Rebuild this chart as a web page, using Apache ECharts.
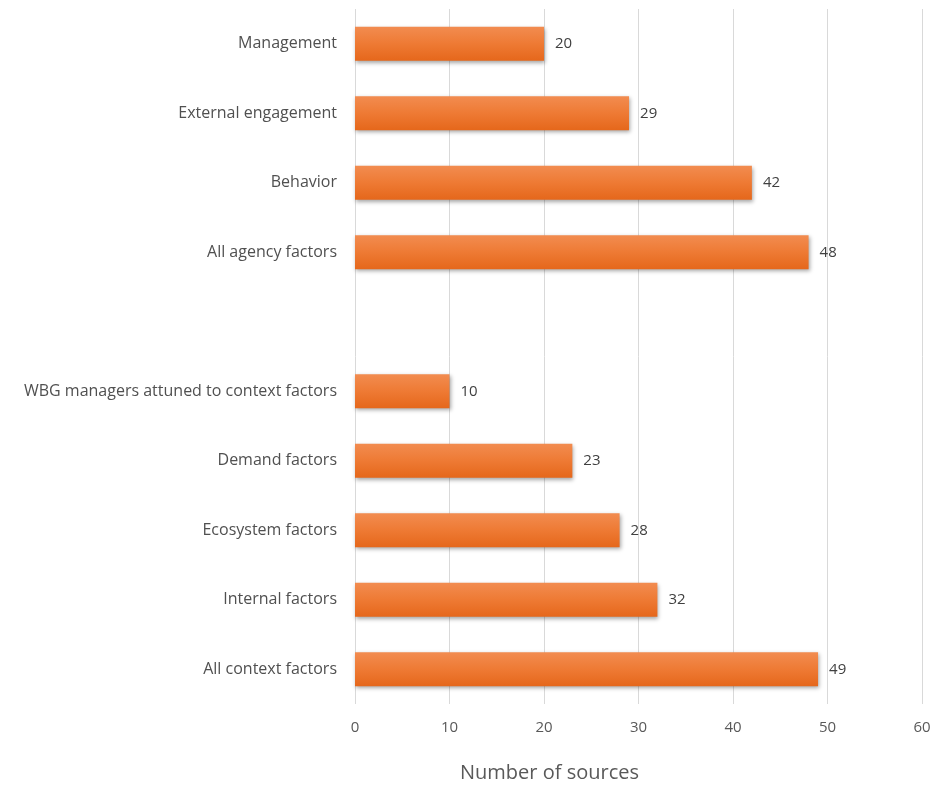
<!DOCTYPE html>
<html><head><meta charset="utf-8">
<script src="https://cdn.jsdelivr.net/npm/echarts@6/dist/echarts.min.js"></script>
<style>html,body{margin:0;padding:0;background:#fff}#c{width:938px;height:786px}</style>
</head><body><div id="c"></div>
<script>
const categories = ["Management","External engagement","Behavior","All agency factors","","WBG managers attuned to context factors","Demand factors","Ecosystem factors","Internal factors","All context factors"];
const values = [20,29,42,48,null,10,23,28,32,49];
const xTicks = [0,10,20,30,40,50,60];
const axisTitle = "Number of sources";

const font = "'Open Sans', 'Liberation Sans', sans-serif";
const chart = echarts.init(document.getElementById('c'), null, {renderer:'canvas'});
chart.setOption({
  animation:false,
  backgroundColor:'#fff',
  title:{text:axisTitle,left:455,top:758,textStyle:{fontFamily:font,fontSize:20,fontWeight:'normal',color:'#595959'}},
  grid:{left:355,right:16,top:9,bottom:82,containLabel:false},
  xAxis:{type:'value',min:xTicks[0],max:xTicks[xTicks.length-1],interval:10,
    axisLine:{show:false},axisTick:{show:false},
    axisLabel:{fontFamily:font,fontSize:15,color:'#595959',margin:16},
    splitLine:{show:true,lineStyle:{color:'#d9d9d9',width:1}}},
  yAxis:{type:'category',data:categories,inverse:true,
    axisLine:{show:false},axisTick:{show:false},
    axisLabel:{fontFamily:font,fontSize:16,color:'#505050',margin:18}},
  series:[{type:'bar',data:values,barWidth:34,
    itemStyle:{color:new echarts.graphic.LinearGradient(0,0,0,1,[{offset:0,color:'#F28C50'},{offset:0.5,color:'#EE7A34'},{offset:1,color:'#E5671B'}]),
      shadowColor:'rgba(0,0,0,0.35)',shadowBlur:4,shadowOffsetX:1,shadowOffsetY:2},
    label:{show:true,position:'right',distance:11,fontFamily:font,fontSize:15,color:'#404040'}}]
});
</script></body></html>
